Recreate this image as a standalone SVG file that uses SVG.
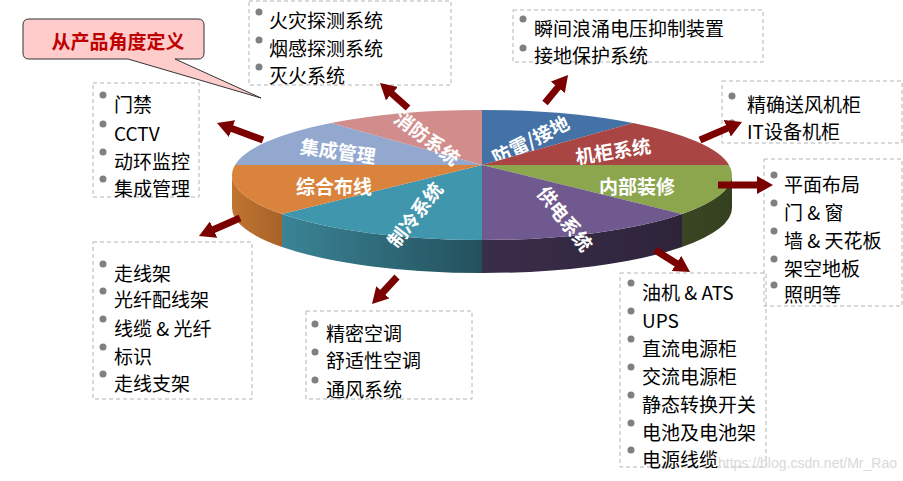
<svg xmlns="http://www.w3.org/2000/svg" width="903" height="481" viewBox="0 0 903 481">
<defs>
<style>
.box{fill:none;stroke:#b4b4b4;stroke-width:1;stroke-dasharray:4 3}
.it{font-family:"Noto Sans CJK SC","Noto Sans",sans-serif;font-size:19px;fill:#000;dominant-baseline:central}
.bul{fill:#808080}
.lbl{font-family:"Noto Sans CJK SC","Noto Sans",sans-serif;font-size:19px;font-weight:bold;fill:#fff;text-anchor:middle;dominant-baseline:central}
.arr{stroke:#7b0000;stroke-width:7;fill:none;marker-end:url(#ah)}
</style>
<marker id="ah" viewBox="0 0 16 18" refX="1" refY="9" markerWidth="16" markerHeight="18" markerUnits="userSpaceOnUse" orient="auto"><path d="M0,0 L16,9 L0,18 z" fill="#7b0000"/></marker>
<linearGradient id="gO" x1="0" y1="0" x2="1" y2="0"><stop offset="0" stop-color="#c0742f"/><stop offset="1" stop-color="#a8622a"/></linearGradient>
<linearGradient id="gT" x1="0" y1="0" x2="1" y2="0"><stop offset="0" stop-color="#3a8496"/><stop offset="1" stop-color="#24505c"/></linearGradient>
<linearGradient id="gP" x1="0" y1="0" x2="1" y2="0"><stop offset="0" stop-color="#3a2d4a"/><stop offset="1" stop-color="#2e243a"/></linearGradient>
<linearGradient id="gG" x1="0" y1="0" x2="1" y2="0"><stop offset="0" stop-color="#3a4623"/><stop offset="1" stop-color="#34401f"/></linearGradient>
</defs>
<rect width="903" height="481" fill="#fff"/>

<g id="pie">
<g id="pie-side">
<path d="M732,175 A250,65 0 0 1 682,214 L682,247 A250,65 0 0 0 732,208 Z" fill="url(#gG)"/>
<path d="M682,214 A250,65 0 0 1 482,240 L482,273 A250,65 0 0 0 682,247 Z" fill="url(#gP)"/>
<path d="M482,240 A250,65 0 0 1 282,214 L282,247 A250,65 0 0 0 482,273 Z" fill="url(#gT)"/>
<path d="M282,214 A250,65 0 0 1 232,175 L232,208 A250,65 0 0 0 282,247 Z" fill="url(#gO)"/>
</g>
<g id="slice-fanglei"><path d="M482,165 L482,110 A250,65 0 0 1 633,123 Z" fill="#4572a6"/><text class="lbl" transform="translate(530,139) rotate(-27)">防雷/接地</text></g>
<g id="slice-jigui"><path d="M482,165 L633,123 A250,65 0 0 1 729,165 Z" fill="#a94543"/><text class="lbl" transform="translate(613,150) rotate(-9)">机柜系统</text></g>
<g id="slice-neibu"><path d="M482,165 L729,165 A250,65 0 0 1 682,214 Z" fill="#8ba64d"/><text class="lbl" x="637" y="185">内部装修</text></g>
<g id="slice-gongdian"><path d="M482,165 L682,214 A250,65 0 0 1 482,240 Z" fill="#70598e"/><text class="lbl" transform="translate(566,218) rotate(52)">供电系统</text></g>
<g id="slice-zhileng"><path d="M482,165 L482,240 A250,65 0 0 1 282,214 Z" fill="#4096ac"/><text class="lbl" transform="translate(414,214) rotate(-52)">制冷系统</text></g>
<g id="slice-zonghe"><path d="M482,165 L282,214 A250,65 0 0 1 235,165 Z" fill="#d9833c"/><text class="lbl" x="334" y="185">综合布线</text></g>
<g id="slice-jicheng"><path d="M482,165 L235,165 A250,65 0 0 1 331,123 Z" fill="#92a8cf"/><text class="lbl" transform="translate(338,150) rotate(8)">集成管理</text></g>
<g id="slice-xiaofang"><path d="M482,165 L331,123 A250,65 0 0 1 482,110 Z" fill="#d08d8b"/><text class="lbl" transform="translate(428,137) rotate(37)">消防系统</text></g>
</g>

<g id="callout">
<path d="M29,19 L198,19 Q204,19 204,25 L204,53 Q204,59 198,59 L175,59 L261,98 L128,59 L29,59 Q23,59 23,53 L23,25 Q23,19 29,19 Z" fill="#ffcccc" stroke="#333" stroke-width="1"/>
<text x="118" y="40" style="font-family:'Noto Sans CJK SC','Noto Sans',sans-serif;font-size:19px;font-weight:bold;fill:#c00000;text-anchor:middle;dominant-baseline:central">从产品角度定义</text>
</g>

<g id="box-xiaofang">
<rect class="box" x="249" y="1" width="202" height="84"/>
<circle class="bul" cx="259" cy="12" r="3.5"/><text class="it" x="269" y="19">火灾探测系统</text>
<circle class="bul" cx="259" cy="40" r="3.5"/><text class="it" x="269" y="47">烟感探测系统</text>
<circle class="bul" cx="259" cy="67" r="3.5"/><text class="it" x="269" y="74">灭火系统</text>
</g>

<g id="box-fanglei">
<rect class="box" x="513" y="10" width="250" height="52"/>
<circle class="bul" cx="523" cy="19" r="3.5"/><text class="it" x="534" y="27">瞬间浪涌电压抑制装置</text>
<circle class="bul" cx="523" cy="48" r="3.5"/><text class="it" x="534" y="54">接地保护系统</text>
</g>

<g id="box-jigui">
<rect class="box" x="722" y="81" width="180" height="62"/>
<circle class="bul" cx="732" cy="96" r="3.5"/><text class="it" x="747" y="103">精确送风机柜</text>
<circle class="bul" cx="732" cy="123" r="3.5"/><text class="it" x="747" y="130">IT设备机柜</text>
</g>

<g id="box-jicheng">
<rect class="box" x="93" y="83" width="106" height="114"/>
<circle class="bul" cx="103" cy="95" r="3.5"/><text class="it" x="114" y="103">门禁</text>
<circle class="bul" cx="103" cy="124" r="3.5"/><text class="it" x="114" y="132">CCTV</text>
<circle class="bul" cx="103" cy="152" r="3.5"/><text class="it" x="114" y="160">动环监控</text>
<circle class="bul" cx="103" cy="179" r="3.5"/><text class="it" x="114" y="187">集成管理</text>
</g>

<g id="box-zonghe">
<rect class="box" x="93" y="242" width="159" height="157"/>
<circle class="bul" cx="103" cy="264" r="3.5"/><text class="it" x="114" y="272">走线架</text>
<circle class="bul" cx="103" cy="291" r="3.5"/><text class="it" x="114" y="298">光纤配线架</text>
<circle class="bul" cx="103" cy="319" r="3.5"/><text class="it" x="114" y="327">线缆 &amp; 光纤</text>
<circle class="bul" cx="103" cy="347" r="3.5"/><text class="it" x="114" y="355">标识</text>
<circle class="bul" cx="103" cy="374" r="3.5"/><text class="it" x="114" y="382">走线支架</text>
</g>

<g id="box-zhileng">
<rect class="box" x="306" y="311" width="166" height="88"/>
<circle class="bul" cx="315" cy="324" r="3.5"/><text class="it" x="326" y="332">精密空调</text>
<circle class="bul" cx="315" cy="352" r="3.5"/><text class="it" x="326" y="359">舒适性空调</text>
<circle class="bul" cx="315" cy="380" r="3.5"/><text class="it" x="326" y="388">通风系统</text>
</g>

<g id="box-neibu">
<rect class="box" x="764" y="159" width="138" height="147"/>
<circle class="bul" cx="774" cy="175" r="3.5"/><text class="it" x="784" y="183">平面布局</text>
<circle class="bul" cx="774" cy="203" r="3.5"/><text class="it" x="784" y="211">门 &amp; 窗</text>
<circle class="bul" cx="774" cy="231" r="3.5"/><text class="it" x="784" y="239">墙 &amp; 天花板</text>
<circle class="bul" cx="774" cy="259" r="3.5"/><text class="it" x="784" y="267">架空地板</text>
<circle class="bul" cx="774" cy="285" r="3.5"/><text class="it" x="784" y="293">照明等</text>
</g>

<g id="box-gongdian">
<rect class="box" x="620" y="273" width="146" height="194"/>
<circle class="bul" cx="631" cy="283" r="3.5"/><text class="it" x="642" y="291">油机 &amp; ATS</text>
<circle class="bul" cx="631" cy="311" r="3.5"/><text class="it" x="642" y="319">UPS</text>
<circle class="bul" cx="631" cy="339" r="3.5"/><text class="it" x="642" y="347">直流电源柜</text>
<circle class="bul" cx="631" cy="367" r="3.5"/><text class="it" x="642" y="375">交流电源柜</text>
<circle class="bul" cx="631" cy="395" r="3.5"/><text class="it" x="642" y="403">静态转换开关</text>
<circle class="bul" cx="631" cy="423" r="3.5"/><text class="it" x="642" y="431">电池及电池架</text>
<circle class="bul" cx="631" cy="450" r="3.5"/><text class="it" x="642" y="458">电源线缆</text>
</g>

<g id="connectors">
<line class="arr" x1="408" y1="108" x2="391.2" y2="93"/>
<line class="arr" x1="545" y1="103" x2="558.5" y2="86.6"/>
<line class="arr" x1="700" y1="140" x2="728.2" y2="127.9"/>
<line class="arr" x1="718" y1="185" x2="758" y2="185"/>
<line class="arr" x1="655" y1="250" x2="677.3" y2="264"/>
<line class="arr" x1="397" y1="277" x2="382.2" y2="293"/>
<line class="arr" x1="240" y1="218" x2="212.7" y2="230"/>
<line class="arr" x1="263" y1="140" x2="231.1" y2="128.2"/>
</g>

<text x="897" y="468" text-anchor="end" style="font-family:'Liberation Sans',Arial,sans-serif;font-size:14px;fill:#d9d9d9">https://blog.csdn.net/Mr_Rao</text>
</svg>
